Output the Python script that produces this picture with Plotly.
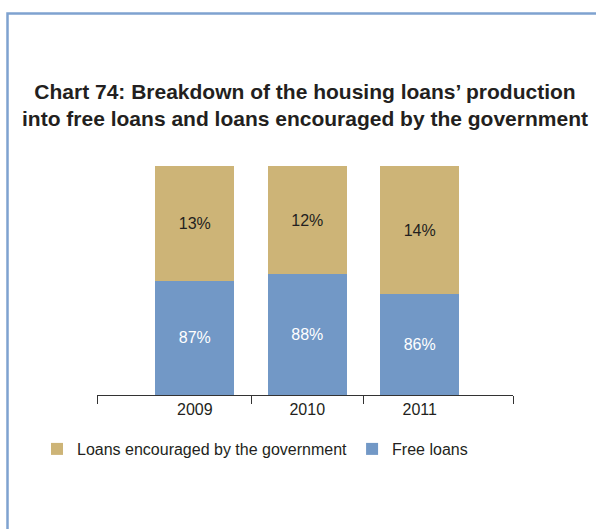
import plotly.graph_objects as go

# ---- data ----
years = ["2009", "2010", "2011"]
free_drawn = [49.8, 52.8, 44.0]          # visual height of "Free loans" segment (% of bar)
encouraged_drawn = [50.2, 47.2, 56.0]    # visual height of "Loans encouraged" segment
free_labels = ["87%", "88%", "86%"]
encouraged_labels = ["13%", "12%", "14%"]
category_edges = [-0.87, 0.5, 1.5, 2.83]

W, H = 596, 529
ML, MR, MT, MB = 97, 83, 166, 134
PW, PH = W - ML - MR, H - MT - MB

GOLD = "#CDB477"
BLUE = "#7298C6"
BORDER = "#7FA2D0"
TXT = "#231F20"
FONT = "Liberation Sans, Arial, sans-serif"

x = list(range(len(years)))

fig = go.Figure()
fig.add_trace(go.Bar(
    x=x, y=free_drawn, name="Free loans", width=0.7,
    marker=dict(color=BLUE, line=dict(width=0)),
    text=free_labels, textposition="inside", insidetextanchor="middle",
    textfont=dict(family=FONT, size=16, color="white"), hoverinfo="skip",
))
fig.add_trace(go.Bar(
    x=x, y=encouraged_drawn, name="Loans encouraged by the government", width=0.7,
    marker=dict(color=GOLD, line=dict(width=0)),
    text=encouraged_labels, textposition="inside", insidetextanchor="middle",
    textfont=dict(family=FONT, size=16, color=TXT), hoverinfo="skip",
))

def px_to_paper_x(px):
    return (px - ML) / PW

def px_to_paper_y(py):
    return (H - MB - py) / PH

fig.update_layout(
    width=W, height=H,
    margin=dict(l=ML, r=MR, t=MT, b=MB, pad=0),
    paper_bgcolor="white", plot_bgcolor="white",
    barmode="stack",
    title=dict(
        text="Chart 74: Breakdown of the housing loans’ production<br>into free loans and loans encouraged by the government",
        font=dict(family=FONT, size=21, color=TXT, weight="bold"),
        x=px_to_paper_x(305), xref="paper", xanchor="center",
        y=1 - 99 / H, yref="container", yanchor="top",
    ),
    xaxis=dict(
        range=[-0.87, 2.83], tickmode="array", tickvals=x, ticktext=years,
        ticks="", showgrid=False, zeroline=False,
        showline=True, linecolor="#333333", linewidth=1,
        tickfont=dict(family=FONT, size=16, color=TXT),
        minor=dict(tickmode="array", tickvals=category_edges, ticks="outside",
                   ticklen=8, tickcolor="#333333", tickwidth=1, showgrid=False),
        fixedrange=True,
    ),
    yaxis=dict(range=[0, 100], visible=False, fixedrange=True),
    showlegend=True,
    legend=dict(
        orientation="h", traceorder="reversed",
        x=px_to_paper_x(37), xanchor="left",
        y=px_to_paper_y(432), yanchor="top",
        font=dict(family=FONT, size=16, color=TXT),
        bgcolor="rgba(0,0,0,0)",
    ),
    shapes=[dict(
        type="rect", xref="paper", yref="paper",
        x0=px_to_paper_x(7.5), x1=px_to_paper_x(W + 40),
        y0=px_to_paper_y(H + 40), y1=px_to_paper_y(13.5),
        line=dict(color=BORDER, width=2.5), fillcolor="rgba(0,0,0,0)", layer="below",
    )],
)

fig.write_html(
    "out.html",
    config={"displayModeBar": False},
    post_script="document.body.style.margin='0';document.body.style.overflow='hidden';",
)
